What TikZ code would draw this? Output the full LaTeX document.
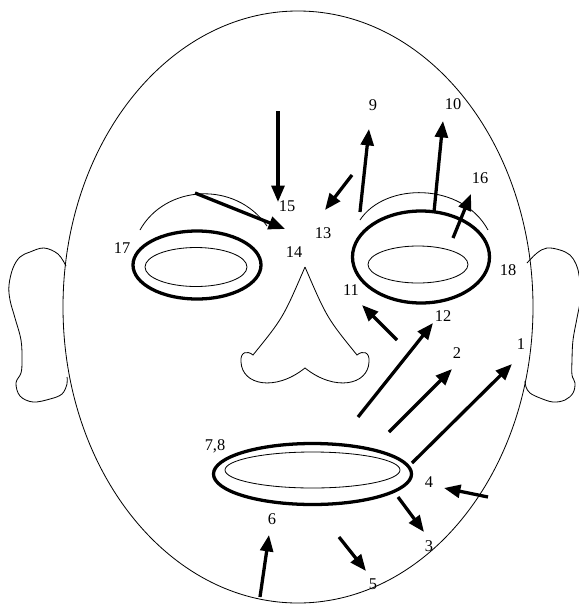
\documentclass[tikz,border=0pt]{standalone}
\usepackage{fontspec}
\setmainfont{Liberation Serif}
\usetikzlibrary{arrows.meta}

\begin{document}
\begin{tikzpicture}[x=0.03cm, y=-0.03cm, >={Triangle[length=14pt, width=11pt]},
	thinline/.style={line width=0.7pt},
	thickline/.style={line width=2.8pt},
	lbl/.style={font=\fontsize{14}{16}\selectfont, inner sep=0pt}]
	\useasboundingbox (0,0) rectangle (579,606);

	% head and ears
	\draw[thinline] (298,307) ellipse [x radius=235, y radius=296];
	\draw[thinline] plot[smooth, tension=0.6] coordinates {(66,266) (58,254) (44,248) (30,252) (20,257) (13,268) (9,285) (10,300) (15,318) (21,340) (22,360) (21,373) (16,383) (20,396) (33,402) (50,399) (62,394) (67,384) (67,377)};
	\draw[thinline] plot[smooth, tension=0.6] coordinates {(527,263) (537,253) (547,248) (560,250) (570,255) (576,264) (579,275) (581,295) (577,318) (573,340) (572,360) (572,375) (575,383) (573,393) (565,400) (553,402) (540,398) (530,393) (526,387) (525,381)};

	% brows
	\draw[thinline] (140,230) .. controls (165,185) and (235,180) .. (267,226);
	\draw[thinline] (360,220) .. controls (385,182) and (462,182) .. (488,230);

	% eyes
	\draw[thickline] (197,265) ellipse [x radius=64, y radius=34];
	\draw[thinline] (196,267) ellipse [x radius=51, y radius=19.5];
	\draw[thickline] (421,257) ellipse [x radius=68.5, y radius=46];
	\draw[thinline] (418,264.5) ellipse [x radius=50, y radius=18.5];

	% nose
	\draw[thinline] (305,267) .. controls (283,318) .. (253,355)
		.. controls (247,350) and (240,352) .. (241,362)
		.. controls (242,385) and (275,392) .. (305,368)
		.. controls (335,392) and (368,385) .. (369,362)
		.. controls (370,352) and (363,350) .. (357,355)
		.. controls (327,318) .. (305,267);

	% mouth
	\draw[thickline] (312.5,474) ellipse [x radius=99, y radius=30.5];
	\draw[thinline] (312.5,470) ellipse [x radius=87.5, y radius=18];

	% arrows
	\foreach \a/\b in {{278,111}/{278,202}, {195,193}/{285,229}, {352,175}/{325,210},
		{360,212}/{369,129}, {434,212}/{443,121}, {453,238}/{471,194},
		{397,340}/{362,305}, {358,417}/{433,323}, {389,432}/{452,369},
		{412,463}/{512,364}, {488,497}/{444,488}, {398,497}/{424,532},
		{339,537}/{366,571}, {260,597}/{269,535}}
		\draw[thickline, ->] (\a) -- (\b);

	% numbers
	\foreach \t/\x/\y in {1/521/344, 2/457/353, 3/429/546, 4/429/482, 5/373/584,
		6/272/519, 9/373/105, 10/453/104, 11/351/290, 12/443/316, 13/323/233,
		14/294/252, 15/287/206, 16/480/178, 17/122/248, 18/508/270}
		\node[lbl] (l\t) at (\x,\y) {\t};
	\node[lbl] (l78) at (215,446) {7,8};
\end{tikzpicture}
\end{document}
